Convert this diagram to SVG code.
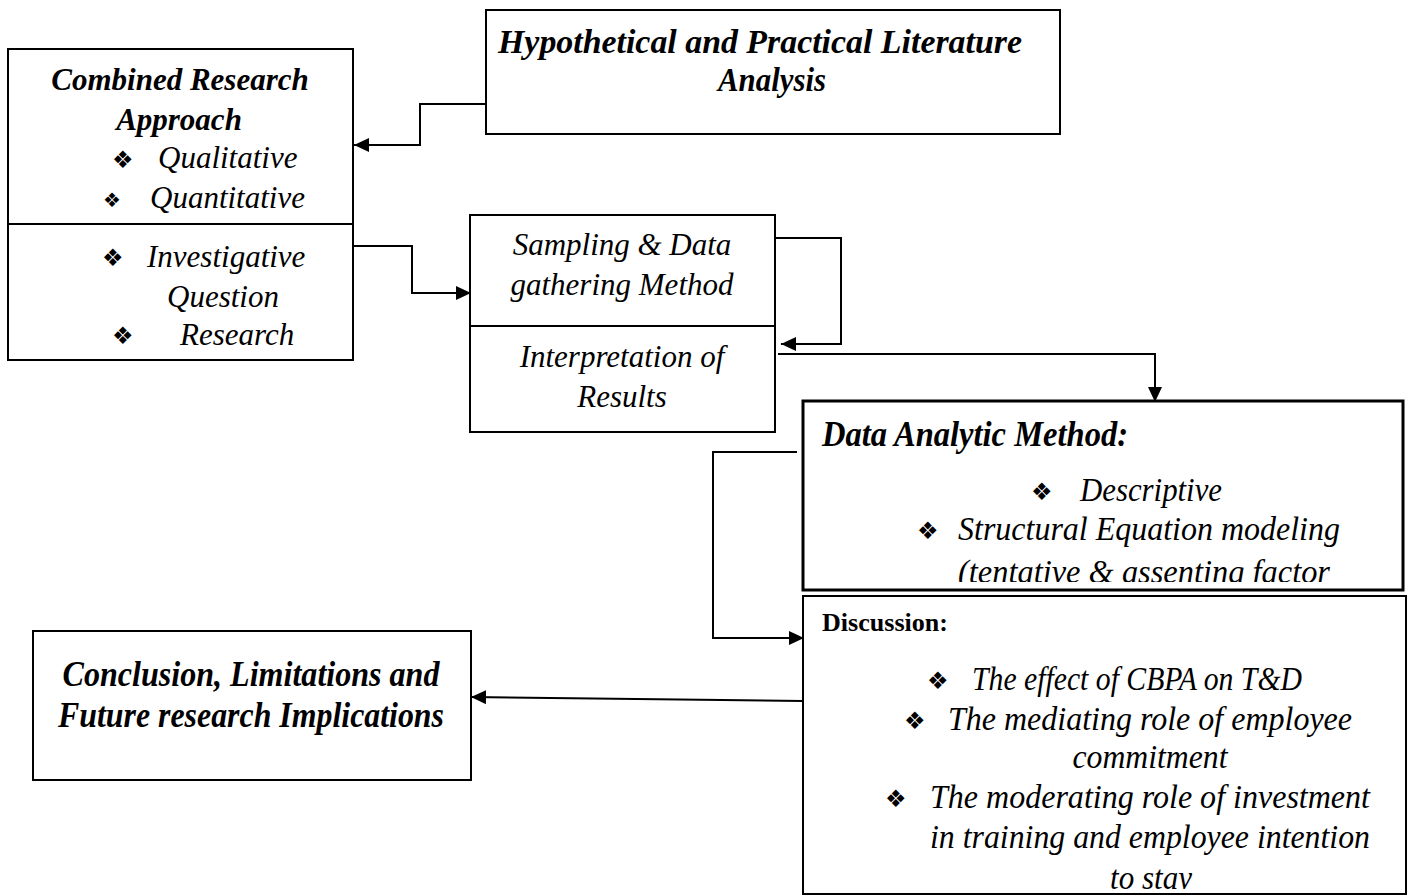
<svg xmlns="http://www.w3.org/2000/svg" width="1409" height="896" viewBox="0 0 1409 896">
<style>
  .box{fill:#fff;stroke:#000;stroke-width:2}
  .thick{stroke-width:3}
  .bi{font-family:"Liberation Serif",serif;font-weight:bold;font-style:italic;fill:#000}
  .it{font-family:"Liberation Serif",serif;font-style:italic;fill:#000}
  .b{font-family:"Liberation Serif",serif;font-weight:bold;fill:#000}
  .bul{font-family:"DejaVu Sans",sans-serif;fill:#000}
  .con{fill:none;stroke:#000;stroke-width:2;stroke-linecap:butt}
</style>
<defs>
  <marker id="ah" markerUnits="userSpaceOnUse" markerWidth="16" markerHeight="14" refX="15" refY="7" orient="auto">
    <path d="M0,0 L15,7 L0,14 z" fill="#000"/>
  </marker>
  <clipPath id="clipData"><rect x="804" y="402" width="598" height="180"/></clipPath>
  <clipPath id="clipDisc"><rect x="804" y="597" width="602" height="292"/></clipPath>
</defs>

<g id="node-hypothetical">
  <rect class="box" x="486" y="10" width="574" height="124"/>
  <text class="bi" x="760" y="53" font-size="34" text-anchor="middle" textLength="524" lengthAdjust="spacingAndGlyphs">Hypothetical and Practical Literature</text>
  <text class="bi" x="772" y="91" font-size="34" text-anchor="middle" textLength="108" lengthAdjust="spacingAndGlyphs">Analysis</text>
</g>

<g id="node-combined">
  <rect class="box" x="8" y="49" width="345" height="311"/>
  <line x1="8" y1="224" x2="353" y2="224" stroke="#000" stroke-width="2"/>
  <text class="bi" x="180" y="90" font-size="31" text-anchor="middle">Combined Research</text>
  <text class="bi" x="179" y="130" font-size="31" text-anchor="middle">Approach</text>
  <text class="bul" x="112" y="168" font-size="24">❖</text>
  <text class="it" x="158" y="168" font-size="31">Qualitative</text>
  <text class="bul" x="103" y="207" font-size="20">❖</text>
  <text class="it" x="150" y="208" font-size="31">Quantitative</text>
  <text class="bul" x="102" y="266" font-size="24">❖</text>
  <text class="it" x="147" y="267" font-size="31">Investigative</text>
  <text class="it" x="167" y="307" font-size="31">Question</text>
  <text class="bul" x="112" y="344" font-size="24">❖</text>
  <text class="it" x="180" y="345" font-size="31">Research</text>
</g>

<g id="node-sampling">
  <rect class="box" x="470" y="215" width="305" height="217"/>
  <line x1="470" y1="326" x2="775" y2="326" stroke="#000" stroke-width="2"/>
  <text class="it" x="622" y="255" font-size="31" text-anchor="middle">Sampling &amp; Data</text>
  <text class="it" x="622" y="295" font-size="31" text-anchor="middle">gathering Method</text>
  <text class="it" x="622" y="367" font-size="31" text-anchor="middle">Interpretation of</text>
  <text class="it" x="622" y="407" font-size="31" text-anchor="middle">Results</text>
</g>

<g id="node-data-analytic">
  <rect class="box thick" x="803" y="401" width="600" height="189"/>
  <text class="bi" x="822" y="446" font-size="36" textLength="306" lengthAdjust="spacingAndGlyphs">Data Analytic Method:</text>
  <text class="bul" x="1031" y="500" font-size="24">❖</text>
  <text class="it" x="1080" y="501" font-size="33" textLength="142" lengthAdjust="spacingAndGlyphs">Descriptive</text>
  <text class="bul" x="917" y="539" font-size="24">❖</text>
  <text class="it" x="958" y="540" font-size="33" textLength="382" lengthAdjust="spacingAndGlyphs">Structural Equation modeling</text>
  <g clip-path="url(#clipData)">
    <text class="it" x="958" y="583" font-size="33" textLength="372" lengthAdjust="spacingAndGlyphs">(tentative &amp; assenting factor</text>
  </g>
</g>

<g id="node-discussion">
  <rect class="box" x="803" y="596" width="603" height="298"/>
  <text class="b" x="822" y="631" font-size="26" textLength="126" lengthAdjust="spacingAndGlyphs">Discussion:</text>
  <text class="bul" x="927" y="689" font-size="24">❖</text>
  <text class="it" x="972" y="690" font-size="33" textLength="330" lengthAdjust="spacingAndGlyphs">The effect of CBPA on T&amp;D</text>
  <text class="bul" x="904" y="729" font-size="24">❖</text>
  <text class="it" x="948" y="730" font-size="33" textLength="404" lengthAdjust="spacingAndGlyphs">The mediating role of employee</text>
  <text class="it" x="1150" y="768" font-size="33" text-anchor="middle" textLength="155" lengthAdjust="spacingAndGlyphs">commitment</text>
  <text class="bul" x="885" y="807" font-size="24">❖</text>
  <text class="it" x="930" y="808" font-size="33" textLength="440" lengthAdjust="spacingAndGlyphs">The moderating role of investment</text>
  <text class="it" x="930" y="848" font-size="33" textLength="440" lengthAdjust="spacingAndGlyphs">in training and employee intention</text>
  <g clip-path="url(#clipDisc)">
    <text class="it" x="1151" y="889" font-size="33" text-anchor="middle" textLength="82" lengthAdjust="spacingAndGlyphs">to stay</text>
  </g>
</g>

<g id="node-conclusion">
  <rect class="box" x="33" y="631" width="438" height="149"/>
  <text class="bi" x="251" y="686" font-size="36" text-anchor="middle" textLength="377" lengthAdjust="spacingAndGlyphs">Conclusion, Limitations and</text>
  <text class="bi" x="251" y="727" font-size="36" text-anchor="middle" textLength="386" lengthAdjust="spacingAndGlyphs">Future research Implications</text>
</g>

<g id="connectors">
  <path class="con" d="M486,104 H420 V145 H354" stroke-width="4" marker-end="url(#ah)"/>
  <path class="con" d="M353,246 H412 V293 H471" marker-end="url(#ah)"/>
  <path class="con" d="M775,238 H841 V344 H781" marker-end="url(#ah)"/>
  <path class="con" d="M778,354 H1155 V402" marker-end="url(#ah)"/>
  <path class="con" d="M797,452 H713 V638 H804" marker-end="url(#ah)"/>
  <path class="con" d="M803,701 L471,697" marker-end="url(#ah)"/>
</g>
</svg>
